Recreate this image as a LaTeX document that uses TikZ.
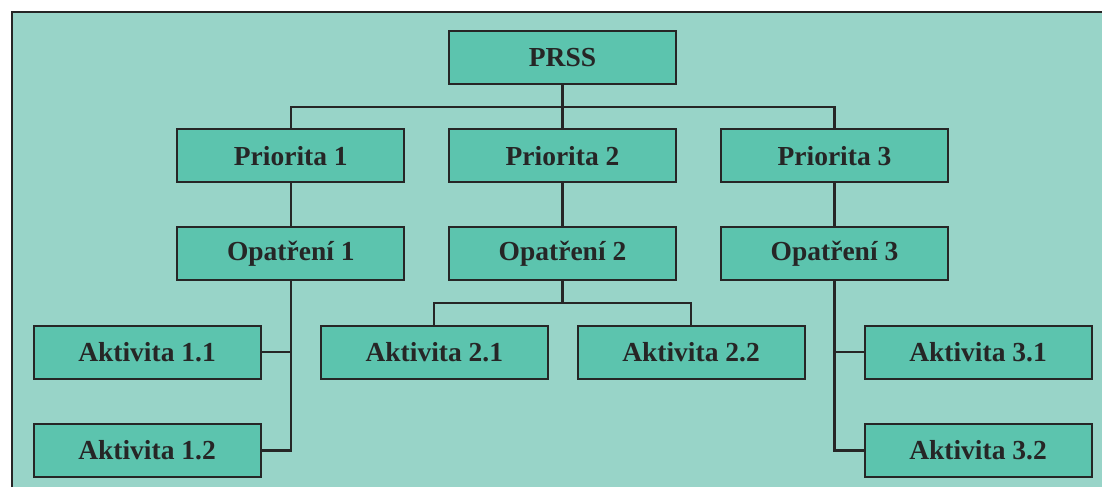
\documentclass[tikz,border=0pt]{standalone}
\usepackage{fontspec}
\setmainfont{Liberation Serif}
\definecolor{panel}{RGB}{152,212,200}
\definecolor{boxfill}{RGB}{92,196,174}
\definecolor{ink}{RGB}{38,38,38}
\begin{document}
\begin{tikzpicture}[x=1pt,y=-1pt,
  unit/.style={draw=ink, line width=2pt, fill=boxfill, minimum width=227pt,
    minimum height=53pt, inner sep=0pt, text=ink,
    font=\fontsize{27.5}{30}\selectfont\bfseries},
  link/.style={draw=ink, line width=2.3pt}]
  % canvas and panel
  \useasboundingbox (0,0) rectangle (1102,487);
  \fill[white] (0,0) rectangle (1102,487);
  \fill[panel] (11.5,12.3) rectangle (1102,487);
  \draw[ink, line width=2pt] (11.5,487) -- (11.5,12.3) -- (1102,12.3);

  % top level
  \node[unit] (prss) at (562.5,57.5) {PRSS};
  % priorities
  \node[unit] (p1) at (290.8,155.7) {Priorita 1};
  \node[unit] (p2) at (562.5,155.7) {Priorita 2};
  \node[unit] (p3) at (834.5,155.7) {Priorita 3};
  % measures
  \node[unit] (o1) at (290.8,253.7) {Opatření 1};
  \node[unit] (o2) at (562.5,253.7) {Opatření 2};
  \node[unit] (o3) at (834.5,253.7) {Opatření 3};
  % activities
  \node[unit] (a11) at (147,352) {Aktivita 1.1};
  \node[unit] (a12) at (147,450.5) {Aktivita 1.2};
  \node[unit] (a21) at (434.3,352) {Aktivita 2.1};
  \node[unit] (a22) at (691,352) {Aktivita 2.2};
  \node[unit] (a31) at (978,352) {Aktivita 3.1};
  \node[unit] (a32) at (978,450.5) {Aktivita 3.2};

  % junction points
  \coordinate (bus) at (562.5,106.7);
  \coordinate (bus2) at (562.5,302.7);

  % PRSS to priorities
  \draw[link] (prss.south) -- (p2.north);
  \draw[link] (p1.north) |- (bus) -| (p3.north);
  % priorities to measures
  \draw[link] (p1) -- (o1);
  \draw[link] (p2) -- (o2);
  \draw[link] (p3) -- (o3);
  % measure 1 to its activities
  \draw[link] (o1.south) |- (a12.east);
  \draw[link] (a11.east) -- (a11.east -| o1.south);
  % measure 2 to its activities
  \draw[link] (o2.south) -- (bus2);
  \draw[link] (a21.north) |- (bus2) -| (a22.north);
  % measure 3 to its activities
  \draw[link] (o3.south) |- (a32.west);
  \draw[link] (a31.west) -- (a31.west -| o3.south);
\end{tikzpicture}
\end{document}
